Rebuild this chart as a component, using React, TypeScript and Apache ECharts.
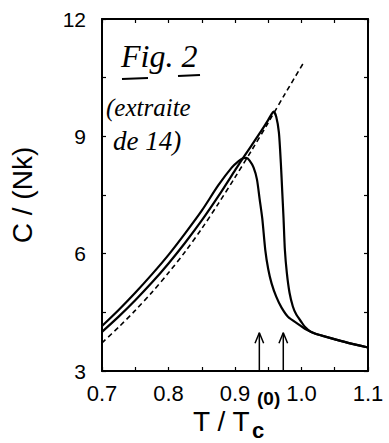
import React, { useEffect, useRef } from "react";
import * as echarts from "echarts";

// Curve 1: outer solid curve (peak near T/Tc = 0.915)
const T1 = [0.7, 0.725, 0.75, 0.775, 0.8, 0.825, 0.85, 0.875, 0.895, 0.905, 0.912, 0.917, 0.922, 0.928, 0.933, 0.937, 0.941, 0.9455, 0.95, 0.955, 0.962, 0.97, 0.98, 0.995, 1.005, 1.02, 1.044, 1.07, 1.1];
const C1 = [4.15, 4.56, 5.0, 5.47, 5.97, 6.52, 7.1, 7.75, 8.2, 8.36, 8.44, 8.45, 8.38, 8.2, 7.9, 7.4, 6.9, 6.1, 5.6, 5.24, 4.9, 4.62, 4.38, 4.2, 4.08, 3.96, 3.84, 3.72, 3.6];

// Curve 2: inner solid curve (peak near T/Tc = 0.958)
const T2 = [0.7, 0.725, 0.75, 0.775, 0.8, 0.825, 0.85, 0.875, 0.9, 0.911, 0.925, 0.94, 0.95, 0.955, 0.958, 0.962, 0.966, 0.969, 0.971, 0.973, 0.975, 0.978, 0.982, 0.987, 0.992, 1.0, 1.005, 1.014, 1.02, 1.044, 1.07, 1.1];
const C2 = [4.0, 4.39, 4.81, 5.26, 5.75, 6.28, 6.85, 7.47, 8.13, 8.42, 8.77, 9.15, 9.42, 9.57, 9.63, 9.5, 9.1, 8.3, 7.6, 6.9, 6.1, 5.5, 5.0, 4.65, 4.45, 4.25, 4.13, 4.0, 3.96, 3.84, 3.72, 3.6];

// Dashed reference curve
const T3 = [0.7, 0.725, 0.75, 0.775, 0.8, 0.825, 0.85, 0.875, 0.9, 0.925, 0.95, 0.975, 1.002];
const C3 = [3.72, 4.12, 4.55, 5.01, 5.51, 6.05, 6.64, 7.28, 7.95, 8.64, 9.35, 10.08, 10.85];

// Arrows marking transition temperatures
const ARROW_T = [0.9366, 0.9726];
const ARROW_BASE = 3;
const ARROW_TIP = 3.98;

const X_MIN = 0.7, X_MAX = 1.1, X_STEP = 0.1;
const Y_MIN = 3, Y_MAX = 12, Y_STEP = 3;

const zip = (xs: number[], ys: number[]) => xs.map((x, i) => [x, ys[i]]);

export default function App() {
  const ref = useRef<HTMLDivElement>(null);
  useEffect(() => {
    if (!ref.current) return;
    const chart = echarts.init(ref.current, undefined, { renderer: "svg" });
    const font = "'Liberation Sans', Arial, Helvetica, sans-serif";
    const hand = "'Liberation Serif', 'DejaVu Serif', serif";
    const axisCommon = {
      type: "value" as const,
      axisLine: { show: true, lineStyle: { color: "#000", width: 2 } },
      axisTick: { show: true, inside: true, length: 4, lineStyle: { color: "#000", width: 1.2 } },
      minorTick: { show: true, splitNumber: 2, length: 4, lineStyle: { color: "#000", width: 1.2 } },
      splitLine: { show: false },
    };
    const arrowSeries: any[] = [];
    ARROW_T.forEach((t) => {
      arrowSeries.push({
        type: "line",
        data: [[t, ARROW_BASE], [t, ARROW_TIP]],
        showSymbol: false,
        lineStyle: { color: "#000", width: 1.5 },
        silent: true,
      });
      arrowSeries.push({
        type: "line",
        data: [[t - 0.0065, ARROW_TIP - 0.27], [t, ARROW_TIP], [t + 0.0065, ARROW_TIP - 0.27]],
        showSymbol: false,
        lineStyle: { color: "#000", width: 1.5 },
        silent: true,
      });
    });
    chart.setOption({
      animation: false,
      backgroundColor: "#fff",
      grid: { left: 97, right: 21, top: 19, bottom: 72, containLabel: false },
      xAxis: [
        {
          ...axisCommon,
          min: X_MIN,
          max: X_MAX,
          interval: X_STEP,
          axisLabel: {
            color: "#000",
            fontSize: 22,
            fontFamily: font,
            margin: 11,
            formatter: (v: number) => v.toFixed(1),
          },
        },
        {
          ...axisCommon,
          position: "top",
          min: X_MIN,
          max: X_MAX,
          interval: X_STEP,
          axisLabel: { show: false },
        },
      ],
      yAxis: [
        {
          ...axisCommon,
          min: Y_MIN,
          max: Y_MAX,
          interval: Y_STEP,
          axisLabel: { color: "#000", fontSize: 21, fontFamily: font, margin: 16 },
          name: "C / (Nk)",
          nameLocation: "middle",
          nameGap: 66,
          nameTextStyle: { color: "#000", fontSize: 28, fontFamily: font },
        },
        {
          ...axisCommon,
          position: "right",
          min: Y_MIN,
          max: Y_MAX,
          interval: Y_STEP,
          axisLabel: { show: false },
        },
      ],
      series: [
        {
          type: "line",
          data: zip(T3, C3),
          smooth: 0.3,
          showSymbol: false,
          lineStyle: { color: "#000", width: 1.6, type: [5, 3.5] },
        },
        {
          type: "line",
          data: zip(T1, C1),
          smooth: 0.25,
          showSymbol: false,
          lineStyle: { color: "#000", width: 2.2 },
        },
        {
          type: "line",
          data: zip(T2, C2),
          smooth: 0.25,
          showSymbol: false,
          lineStyle: { color: "#000", width: 2.2 },
        },
        ...arrowSeries,
      ],
      graphic: [
        { type: "text", left: 193, top: 407, style: { text: "T / T", fontSize: 28, fontFamily: font, fill: "#000" } },
        { type: "text", left: 257, top: 389, style: { text: "(0)", fontSize: 19, fontWeight: "bold", fontFamily: font, fill: "#000" } },
        { type: "text", left: 252, top: 419, style: { text: "c", fontSize: 22, fontWeight: "bold", fontFamily: font, fill: "#000" } },
        { type: "text", left: 121, top: 40, style: { text: "Fig. 2", fontSize: 32, fontStyle: "italic", fontFamily: hand, fill: "#000" } },
        { type: "line", shape: { x1: 122, y1: 79, x2: 148, y2: 78 }, style: { stroke: "#000", lineWidth: 2 } },
        { type: "line", shape: { x1: 178, y1: 76, x2: 200, y2: 75 }, style: { stroke: "#000", lineWidth: 2 } },
        { type: "text", left: 106, top: 95, style: { text: "(extraite", fontSize: 25, fontStyle: "italic", fontFamily: hand, fill: "#000" } },
        { type: "text", left: 113, top: 127, style: { text: "de 14)", fontSize: 27, fontStyle: "italic", fontFamily: hand, fill: "#000" } },
      ],
    });
    return () => chart.dispose();
  }, []);
  return <div ref={ref} style={{ width: 389, height: 443, position: "absolute", left: 0, top: 0 }} />;
}
